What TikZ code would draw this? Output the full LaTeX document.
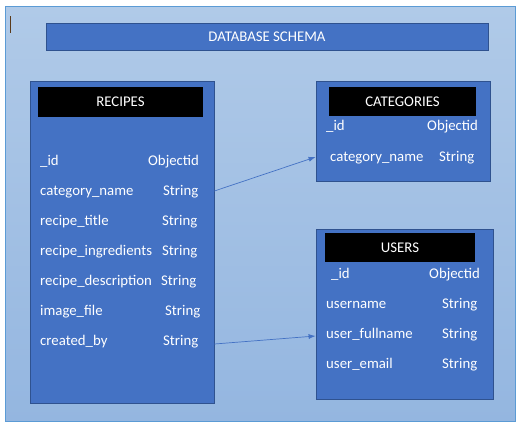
\documentclass[tikz,border=0pt]{standalone}
\usepackage{fontspec}
\setmainfont{Carlito}
\usetikzlibrary{arrows.meta}
\definecolor{bgtop}{HTML}{B0CAE8}
\definecolor{bgbot}{HTML}{94B6E0}
\definecolor{frame}{HTML}{5B9BD5}
\definecolor{boxfill}{HTML}{4472C4}
\definecolor{boxline}{HTML}{2F528F}
\definecolor{cursorc}{HTML}{5A3A1A}
\tikzset{
  tablebox/.style={draw=boxline, fill=boxfill, line width=0.8pt, inner sep=0pt},
  headbox/.style={fill=black, text=white, inner sep=0pt, font=\fontsize{14.8}{17}\selectfont},
  field/.style={anchor=base west, text=white, inner sep=0pt, font=\fontsize{14.8}{17}\selectfont},
  link/.style={draw=boxfill, line width=0.7pt, -{Latex[length=7pt,width=5pt]}},
}
\begin{document}
\begin{tikzpicture}[x=1pt,y=-1pt]
\useasboundingbox (0,0) rectangle (525,429);
\shade[top color=bgtop, bottom color=bgbot] (5.5,6.5) rectangle (515.5,421.5);
\draw[frame, line width=0.8pt] (5.5,6.5) rectangle (515.5,421.5);
\draw[cursorc, line width=0.7pt] (10,16) -- (10,33);
% title
\node[tablebox, minimum width=442pt, minimum height=27pt, text=white, font=\fontsize{14.8}{17}\selectfont] (title) at (267,36.5) {DATABASE SCHEMA};
% RECIPES
\node[tablebox, minimum width=184pt, minimum height=322pt] (recipes) at (122,242) {};
\node[headbox, minimum width=165pt, minimum height=30pt] (recipesh) at (120.5,102) {RECIPES};
\node[field] (r1a) at (40,165) {\_id};
\node[field] (r1b) at (148,165) {Objectid};
\node[field] (r2a) at (40,195) {category\_name};
\node[field] (r2b) at (163,195) {String};
\node[field] (r3a) at (40,225) {recipe\_title};
\node[field] (r3b) at (162,225) {String};
\node[field] (r4a) at (40,255) {recipe\_ingredients};
\node[field] (r4b) at (162,255) {String};
\node[field] (r5a) at (40,285) {recipe\_description};
\node[field] (r5b) at (161,285) {String};
\node[field] (r6a) at (40,315) {image\_file};
\node[field] (r6b) at (165,315) {String};
\node[field] (r7a) at (40,345) {created\_by};
\node[field] (r7b) at (163,345) {String};
% CATEGORIES
\node[tablebox, minimum width=174pt, minimum height=100pt] (cats) at (403,131) {};
\node[headbox, minimum width=147pt, minimum height=29pt] (catsh) at (402.5,101.5) {CATEGORIES};
\node[field] (c1a) at (326,130) {\_id};
\node[field] (c1b) at (427,130) {Objectid};
\node[field] (c2a) at (330,161) {category\_name};
\node[field] (c2b) at (439,161) {String};
% USERS
\node[tablebox, minimum width=177pt, minimum height=170pt] (users) at (404.5,314) {};
\node[headbox, minimum width=150pt, minimum height=29pt] (usersh) at (400,247.5) {USERS};
\node[field] (u1a) at (331,278) {\_id};
\node[field] (u1b) at (429,278) {Objectid};
\node[field] (u2a) at (326,308) {username};
\node[field] (u2b) at (442,308) {String};
\node[field] (u3a) at (326,338) {user\_fullname};
\node[field] (u3b) at (442,338) {String};
\node[field] (u4a) at (326,368) {user\_email};
\node[field] (u4b) at (442,368) {String};
% connectors
\coordinate (s1) at (recipes.east |- 0,191);
\coordinate (e1) at (cats.west |- 0,157);
\coordinate (s2) at (recipes.east |- 0,344);
\coordinate (e2) at (users.west |- 0,336);
\draw[link] (s1) -- (e1);
\draw[link] (s2) -- (e2);
\end{tikzpicture}
\end{document}
